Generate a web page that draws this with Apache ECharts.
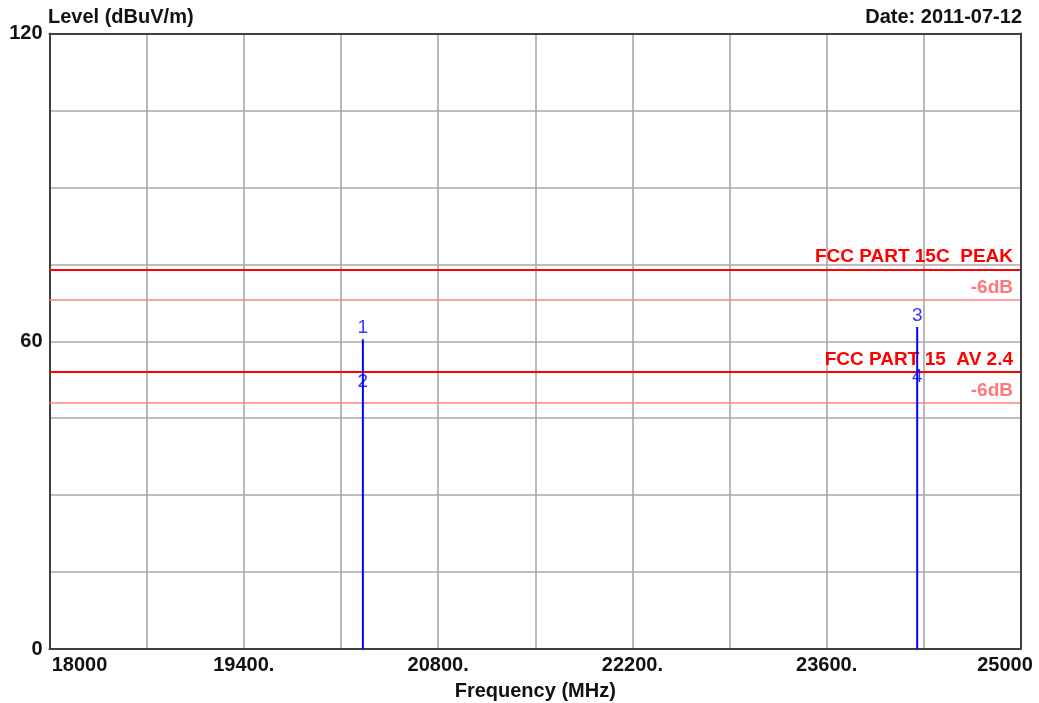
<!DOCTYPE html>
<html>
<head>
<meta charset="utf-8">
<title>Level (dBuV/m)</title>
<script src="https://cdn.jsdelivr.net/npm/echarts@6/dist/echarts.min.js"></script>
<style>
  html, body { margin: 0; padding: 0; background: #ffffff; }
  #chart { width: 1039px; height: 703px; }
</style>
</head>
<body>
<div id="chart"></div>
<script>
// Frequency axis (MHz) and level axis (dBuV/m)
const freqMin = 18000;
const freqMax = 25000;
const freqStep = 700;
const freqTickLabels = { 18000: '18000', 19400: '19400.', 20800: '20800.', 22200: '22200.', 23600: '23600.', 25000: '25000' };
const levelMin = 0;
const levelMax = 120;
const levelStep = 15;
const levelTickLabels = { 0: '0', 60: '60', 120: '120' };

// Measured markers: 1/3 peak readings, 2/4 average readings
const markerNames = ['1', '2', '3', '4'];
const markerFreq = [20258, 20258, 24252, 24252];
const markerLevel = [60.4, 52.1, 62.8, 53.0];

// Limit lines
const limitNames = ['FCC PART 15C  PEAK', '-6dB', 'FCC PART 15  AV 2.4', '-6dB'];
const limitLevels = [74, 68, 54, 48];

const FONT = '"Liberation Sans", Arial, sans-serif';
const TEXT = '#111111';
const FRAME = '#404040';

// Vertical spikes from the floor up to each peak marker
const spikeSeries = [];
for (let i = 0; i < markerFreq.length; i += 2) {
  spikeSeries.push({
    type: 'line',
    data: [[markerFreq[i], levelMin], [markerFreq[i], markerLevel[i]]],
    symbol: 'none',
    lineStyle: { color: '#0000ff', width: 2 },
    silent: true,
    z: 5
  });
}

// Marker numbers
const markerData = markerFreq.map((f, i) => ({
  value: [f, markerLevel[i]],
  name: markerNames[i],
  label: i % 2 === 0 ? { position: 'top', distance: 1 } : { position: 'inside' }
}));

// Limit lines with their captions
const limitLines = limitLevels.map((v, i) => {
  const main = limitNames[i] !== '-6dB';
  const color = main ? '#ff0000' : '#ff8080';
  return {
    yAxis: v,
    lineStyle: { color: color, width: main ? 2 : 1.5, type: 'solid' },
    label: {
      show: true,
      formatter: limitNames[i],
      position: 'insideEndTop',
      distance: [8, 3],
      color: main ? '#ff0000' : '#ff7777',
      fontFamily: FONT,
      fontWeight: 'bold',
      fontSize: 19
    }
  };
});

const frameAxis = { show: true, onZero: false, lineStyle: { color: FRAME, width: 2 } };
const gridLines = { show: true, showMinLine: false, showMaxLine: false, lineStyle: { color: '#a8a8a8', width: 1.6 } };

const chart = echarts.init(document.getElementById('chart'), null, { renderer: 'canvas' });
chart.setOption({
  animation: false,
  backgroundColor: '#ffffff',
  title: [
    {
      text: 'Level (dBuV/m)',
      left: 43, top: 2,
      textStyle: { fontFamily: FONT, fontWeight: 'bold', fontSize: 20, color: TEXT }
    },
    {
      text: 'Date: 2011-07-12',
      right: 12, top: 2,
      textStyle: { fontFamily: FONT, fontWeight: 'bold', fontSize: 20, color: TEXT }
    }
  ],
  grid: {
    left: 49.5, right: 18, top: 33.5, bottom: 54,
    outerBoundsMode: 'none',
    containLabel: false
  },
  xAxis: [
    {
      type: 'value',
      min: freqMin, max: freqMax, interval: freqStep,
      name: 'Frequency (MHz)',
      nameLocation: 'middle',
      nameGap: 32,
      nameTextStyle: { fontFamily: FONT, fontWeight: 'bold', fontSize: 20, color: TEXT },
      axisLine: frameAxis,
      axisTick: { show: false },
      axisLabel: {
        show: true,
        margin: 6,
        showMinLabel: true, showMaxLabel: true,
        formatter: function (v) {
          const t = freqTickLabels[v];
          if (t === undefined) return '';
          if (v === freqMin) return '{first|' + t + '}';
          if (v === freqMax) return '{last|' + t + '}';
          return '{mid|' + t + '}';
        },
        rich: {
          first: { fontFamily: FONT, fontWeight: 'bold', fontSize: 20, color: TEXT, padding: [0, 0, 0, 60] },
          mid: { fontFamily: FONT, fontWeight: 'bold', fontSize: 20, color: TEXT },
          last: { fontFamily: FONT, fontWeight: 'bold', fontSize: 20, color: TEXT, padding: [0, 32, 0, 0] }
        }
      },
      splitLine: gridLines,
      z: 3
    },
    {
      // top edge of the frame
      type: 'value', position: 'top',
      min: freqMin, max: freqMax, interval: freqStep,
      axisLine: frameAxis, axisTick: { show: false }, axisLabel: { show: false },
      splitLine: { show: false }, z: 10
    }
  ],
  yAxis: [
    {
      type: 'value',
      min: levelMin, max: levelMax, interval: levelStep,
      axisLine: frameAxis,
      axisTick: { show: false },
      axisLabel: {
        margin: 7,
        fontFamily: FONT, fontWeight: 'bold', fontSize: 20, color: TEXT,
        formatter: function (v) { return levelTickLabels[v] !== undefined ? levelTickLabels[v] : ''; }
      },
      splitLine: gridLines,
      z: 3
    },
    {
      // right edge of the frame
      type: 'value', position: 'right',
      min: levelMin, max: levelMax, interval: levelStep,
      axisLine: frameAxis, axisTick: { show: false }, axisLabel: { show: false },
      splitLine: { show: false }, z: 10
    }
  ],
  series: spikeSeries.concat([
    {
      type: 'line',
      data: [],
      symbol: 'none',
      markLine: {
        silent: true,
        symbol: ['none', 'none'],
        data: limitLines
      },
      z: 4
    },
    {
      type: 'scatter',
      data: markerData,
      symbol: 'circle',
      symbolSize: 1,
      itemStyle: { color: 'rgba(0,0,0,0)' },
      label: {
        show: true,
        formatter: '{b}',
        color: '#0000ff',
        fontFamily: FONT,
        fontSize: 19
      },
      silent: true,
      z: 6
    }
  ])
});
</script>
</body>
</html>
